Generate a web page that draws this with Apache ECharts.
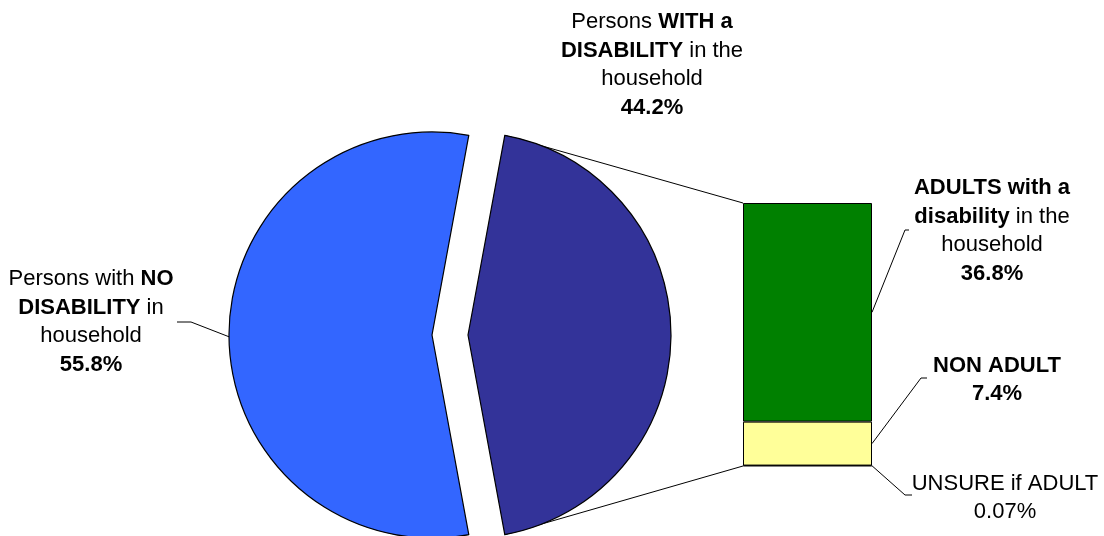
<!DOCTYPE html>
<html><head><meta charset="utf-8">
<script src="https://cdn.jsdelivr.net/npm/echarts@6/dist/echarts.min.js"></script>
<style>html,body{margin:0;padding:0;background:#fff}#c{width:1104px;height:536px}</style>
</head><body><div id="c"></div>
<script>
// ---- data ----
const pieCategories = ['Persons with NO DISABILITY in household', 'Persons WITH a DISABILITY in the household'];
const pieValues = [55.8, 44.2];
const pieColors = ['#3366FF', '#333399'];
// label text segments: [style, text]
const pieLabelLines = [
  [[['n', 'Persons with '], ['b', 'NO']], [['b', 'DISABILITY'], ['n', ' in']], [['n', 'household']]],
  [[['n', 'Persons '], ['b', 'WITH a']], [['b', 'DISABILITY'], ['n', ' in the']], [['n', 'household']]]
];
const pieValueStyle = ['b', 'b'];

// bar stacked bottom -> top
const barCategories = ['UNSURE if ADULT', 'NON ADULT', 'ADULTS with a disability in the household'];
const barValues = [0.07, 7.4, 36.8];
const barColors = ['#000000', '#FFFF99', '#008000'];
const barLabelLines = [
  [[['n', 'UNSURE if ADULT']]],
  [[['b', 'NON ADULT']]],
  [[['b', 'ADULTS with a']], [['b', 'disability'], ['n', ' in the']], [['n', 'household']]]
];
const barValueStyle = ['n', 'b', 'b'];

// ---- layout constants ----
const PIE_C = [432, 335], PIE_R = 203, EXPLODE = 36;
const GRID = {left: 743, top: 203, width: 129, height: 263};
const pieLabelPos = [[91, 322], [652, 65]];
const barLabelPos = [[1005, 498], [997, 380], [992, 231]];
const barLeaderEnds = [[[905, 495], [912, 495]], [[921, 378], [927, 378]], [[905, 230], [909, 230]]];
const pieLeaderEnds = [[191, 322], [177, 322]];

function buildLabel(lines, vStyle, value) {
  const rows = lines.map(l => l.map(s => '{' + s[0] + '|' + s[1] + '}').join(''));
  rows.push('{' + vStyle + '|' + value + '%}');
  return rows.join('\n');
}
const FONT = 'Liberation Sans, Arial, sans-serif';
const rich = {
  n: {fontFamily: FONT, fontSize: 22, lineHeight: 28.5, color: '#000', align: 'center'},
  b: {fontFamily: FONT, fontSize: 22, lineHeight: 28.5, color: '#000', fontWeight: 'bold', align: 'center'}
};

const pieSum = pieValues.reduce((a, b) => a + b, 0);
const barSum = barValues.reduce((a, b) => a + b, 0);
const startAngle = 180 - pieValues[0] / pieSum * 180;
const darkC = [PIE_C[0] + EXPLODE, PIE_C[1]];

const chart = echarts.init(document.getElementById('c'), null, {renderer: 'canvas'});

// two pie series sharing the same data: each shows one slice (the second slice is exploded)
const series = [PIE_C, darkC].map((center, k) => ({
  type: 'pie',
  center: center,
  radius: PIE_R,
  clockwise: false,
  startAngle: startAngle,
  silent: true,
  animation: false,
  label: {
    show: true, position: 'outside', rich: rich,
    formatter: p => buildLabel(pieLabelLines[p.dataIndex], pieValueStyle[p.dataIndex], p.value)
  },
  labelLine: {show: false},
  labelLayout: p => ({x: pieLabelPos[p.dataIndex][0], y: pieLabelPos[p.dataIndex][1], align: 'center', verticalAlign: 'middle'}),
  data: pieCategories.map((name, i) => ({
    name: name, value: pieValues[i],
    itemStyle: i === k ? {color: pieColors[i], borderColor: '#000', borderWidth: 1.2}
                       : {color: 'rgba(0,0,0,0)', borderWidth: 0},
    label: {show: i === k}
  }))
}));

barCategories.forEach((name, i) => {
  series.push({
    type: 'bar', name: name, stack: 'sub', barWidth: '100%',
    silent: true, animation: false,
    itemStyle: {color: barColors[i], borderColor: '#000', borderWidth: 1},
    label: {
      show: true, position: 'right', rich: rich,
      formatter: p => buildLabel(barLabelLines[i], barValueStyle[i], p.value)
    },
    labelLayout: () => ({x: barLabelPos[i][0], y: barLabelPos[i][1], align: 'center', verticalAlign: 'middle'}),
    data: [barValues[i]]
  });
});

chart.setOption({
  animation: false,
  backgroundColor: '#fff',
  grid: Object.assign({}, GRID),
  xAxis: {type: 'category', data: [''], show: false},
  yAxis: {type: 'value', min: 0, max: barSum, show: false},
  series: series
});

// ---- leader and connector lines ----
const lines = [];
const line = pts => lines.push({type: 'polyline', shape: {points: pts}, style: {stroke: '#000', lineWidth: 1, fill: null}, z: 1, silent: true});
const rad = Math.PI / 180;
const halfDark = pieValues[1] / pieSum * 180;
const yPx = v => chart.convertToPixel({yAxisIndex: 0}, v);
const barL = GRID.left, barR = GRID.left + GRID.width;
// connectors
line([[darkC[0] + PIE_R * Math.cos(halfDark * rad), darkC[1] - PIE_R * Math.sin(halfDark * rad)], [barL, yPx(barSum)]]);
line([[darkC[0] + PIE_R * Math.cos(halfDark * rad), darkC[1] + PIE_R * Math.sin(halfDark * rad)], [barL, yPx(0)]]);
// pie leader for light slice
line([[PIE_C[0] - PIE_R * Math.cos(0.5 * rad), PIE_C[1] + PIE_R * Math.sin(0.5 * rad)], pieLeaderEnds[0], pieLeaderEnds[1]]);
// bar leaders
let cum = 0;
barValues.forEach((v, i) => {
  const mid = cum + v / 2; cum += v;
  line([[barR, yPx(mid)], barLeaderEnds[i][0], barLeaderEnds[i][1]]);
});
chart.setOption({graphic: lines});
</script>
</body></html>
